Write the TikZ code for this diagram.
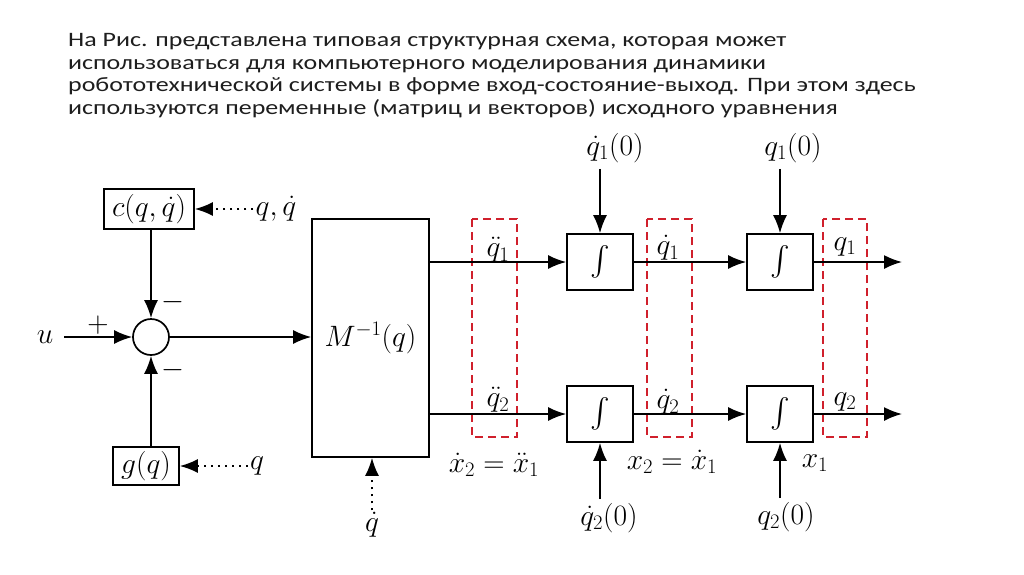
\RequirePackage{fix-cm}
\documentclass[tikz,border=0pt]{standalone}
\usepackage{fontspec}
\newfontfamily\ruf[FakeStretch=1.265]{Carlito}
\DeclareFontShape{OMX}{cmex}{m}{n}{<->cmex10}{}
\usetikzlibrary{arrows.meta}
\definecolor{redd}{RGB}{208,32,44}
\definecolor{tx}{RGB}{30,30,30}
\tikzset{
  blk/.style={draw, line width=1.7pt, inner sep=0pt},
  conn/.style={line width=1.7pt, -{Latex[length=18pt,width=14pt]}},
  dotconn/.style={conn, dash pattern=on 2pt off 5pt},
  redbox/.style={draw=redd, line width=1.6pt, dash pattern=on 8pt off 5pt},
  lbl/.style={inner sep=2pt},
  rutext/.style={anchor=base west, inner sep=0pt, text=tx, font=\ruf\fontsize{20.5}{22.5}\selectfont},
}
\begin{document}
\begin{tikzpicture}[x=1pt,y=-1pt,font=\fontsize{29.5}{34}\selectfont]
\fill[white] (0,0) rectangle (1024,574);
\useasboundingbox (0,0) rectangle (1024,574);

% heading text
\node[rutext] (t1) at (68,46.5) {На Рис. представлена типовая структурная схема, которая может};
\node[rutext] (t2) at (68,69) {использоваться для компьютерного моделирования динамики};
\node[rutext] (t3) at (68,91.5) {робототехнической системы в форме вход-состояние-выход. При этом здесь};
\node[rutext] (t4) at (68,114) {используются переменные (матриц и векторов) исходного уравнения};

% blocks
\node[blk, minimum width=90pt, minimum height=40pt] (c) at (149,209) {$c(q,\dot q)$};
\node[draw, circle, line width=1.7pt, minimum size=36pt, inner sep=0pt] (s) at (151,337) {};
\node[blk, minimum width=66pt, minimum height=38pt] (g) at (146,466) {$g(q)$};
\node[blk, minimum width=117pt, minimum height=238pt] (M) at (370.5,338) {$M^{-1}(q)$};
\node[blk, minimum width=66pt, minimum height=56pt] (i1a) at (600,262) {$\int$};
\node[blk, minimum width=66pt, minimum height=56pt] (i2a) at (780,262) {$\int$};
\node[blk, minimum width=66pt, minimum height=56pt] (i1b) at (600,414) {$\int$};
\node[blk, minimum width=66pt, minimum height=56pt] (i2b) at (780,414) {$\int$};

% red dashed groups
\draw[redbox] (472,219) rectangle (517,437);
\draw[redbox] (647,219) rectangle (692,437);
\draw[redbox] (823,219) rectangle (867,437);

% labels
\node[lbl, inner xsep=11pt] (u) at (45,337) {$u$};
\node[lbl] at (98,325) {$+$};
\node[lbl] at (173,302) {$-$};
\node[lbl] at (173,370) {$-$};
\node[lbl] (qqd) at (276,209) {$q,\dot q$};
\node[lbl] (qg) at (257,466) {$q$};
\node[lbl] (qdM) at (372,525) {$\dot q$};
\node[lbl, inner ysep=6pt] (ic1) at (615,148) {$\dot q_1(0)$};
\node[lbl, inner ysep=6pt] (ic2) at (793,148) {$q_1(0)$};
\node[lbl, inner ysep=4pt] (ic3) at (609,518) {$\dot q_2(0)$};
\node[lbl, inner ysep=4pt] (ic4) at (786,517) {$q_2(0)$};
\node[lbl] at (498,250) {$\ddot q_1$};
\node[lbl] at (498,400) {$\ddot q_2$};
\node[lbl] at (494,465) {$\dot x_2=\ddot x_1$};
\node[lbl] at (668,248) {$\dot q_1$};
\node[lbl] at (668,402) {$\dot q_2$};
\node[lbl] at (672,462) {$x_2=\dot x_1$};
\node[lbl] at (845,247) {$q_1$};
\node[lbl] at (845,402) {$q_2$};
\node[lbl] at (815,463) {$x_1$};
\coordinate (o1) at (902,262);
\coordinate (o2) at (902,414);

% connectors
\draw[conn] (u) -- (s);
\draw[conn] (c.south -| s) -- (s);
\draw[conn] (g.north -| s) -- (s);
\draw[conn] (s) -- (s -| M.west);
\draw[dotconn] (qqd) -- (c);
\draw[dotconn] (qg) -- (g);
\draw[dotconn] (qdM) -- (qdM |- M.south);
\draw[conn] (M.east |- i1a) -- (i1a);
\draw[conn] (M.east |- i1b) -- (i1b);
\draw[conn] (i1a) -- (i2a);
\draw[conn] (i1b) -- (i2b);
\draw[conn] (i2a) -- (o1);
\draw[conn] (i2b) -- (o2);
\draw[conn] (ic1.south -| i1a) -- (i1a);
\draw[conn] (ic2.south -| i2a) -- (i2a);
\draw[conn] (ic3.north -| i1b) -- (i1b);
\draw[conn] (ic4.north -| i2b) -- (i2b);
\end{tikzpicture}
\end{document}
